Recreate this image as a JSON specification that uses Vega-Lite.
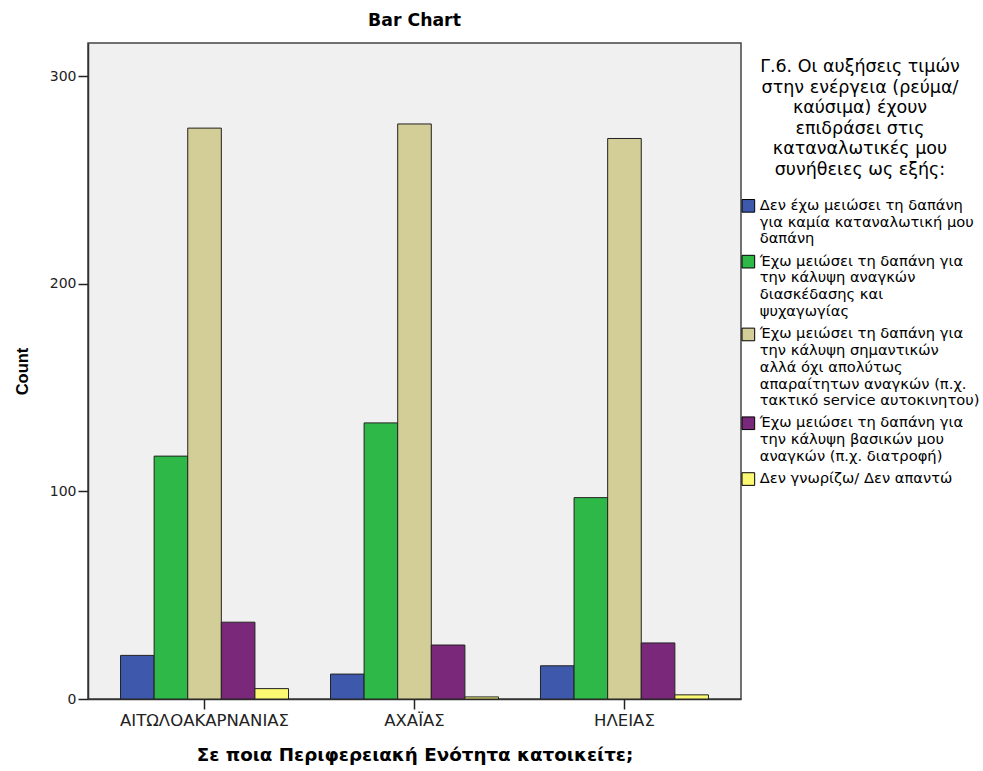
{
  "$schema": "https://vega.github.io/schema/vega-lite/v6.json",
  "width": 653,
  "height": 656,
  "autosize": {"type": "none"},
  "padding": {"left": 88, "top": 43, "right": 242, "bottom": 72},
  "background": "white",
  "title": {"text": "Bar Chart", "font": "DejaVu Sans", "fontSize": 17.3, "fontWeight": "bold", "color": "#000", "anchor": "middle", "offset": 14},
  "config": {
    "view": {"fill": "#F0F0F0", "stroke": "#444", "strokeWidth": 1.5},
    "axis": {
      "labelFont": "DejaVu Sans", "labelColor": "#222",
      "tickColor": "#222", "domainColor": "#333", "domainWidth": 1.5, "tickSize": 10, "tickWidth": 1.5,
      "titleFont": "DejaVu Sans", "titleFontWeight": "bold", "titleColor": "#000",
      "grid": false
    }
  },
  "data": {"values": [
    {"region": "ΑΙΤΩΛΟΑΚΑΡΝΑΝΙΑΣ", "response": "Δεν έχω μειώσει τη δαπάνη\nγια καμία καταναλωτική μου\nδαπάνη", "count": 21},
    {"region": "ΑΙΤΩΛΟΑΚΑΡΝΑΝΙΑΣ", "response": "Έχω μειώσει τη δαπάνη για\nτην κάλυψη αναγκών\nδιασκέδασης και\nψυχαγωγίας", "count": 117},
    {"region": "ΑΙΤΩΛΟΑΚΑΡΝΑΝΙΑΣ", "response": "Έχω μειώσει τη δαπάνη για\nτην κάλυψη σημαντικών\nαλλά όχι απολύτως\nαπαραίτητων αναγκών (π.χ.\nτακτικό service αυτοκινητου)", "count": 275},
    {"region": "ΑΙΤΩΛΟΑΚΑΡΝΑΝΙΑΣ", "response": "Έχω μειώσει τη δαπάνη για\nτην κάλυψη βασικών μου\nαναγκών (π.χ. διατροφή)", "count": 37},
    {"region": "ΑΙΤΩΛΟΑΚΑΡΝΑΝΙΑΣ", "response": "Δεν γνωρίζω/ Δεν απαντώ", "count": 5},
    {"region": "ΑΧΑΪΑΣ", "response": "Δεν έχω μειώσει τη δαπάνη\nγια καμία καταναλωτική μου\nδαπάνη", "count": 12},
    {"region": "ΑΧΑΪΑΣ", "response": "Έχω μειώσει τη δαπάνη για\nτην κάλυψη αναγκών\nδιασκέδασης και\nψυχαγωγίας", "count": 133},
    {"region": "ΑΧΑΪΑΣ", "response": "Έχω μειώσει τη δαπάνη για\nτην κάλυψη σημαντικών\nαλλά όχι απολύτως\nαπαραίτητων αναγκών (π.χ.\nτακτικό service αυτοκινητου)", "count": 277},
    {"region": "ΑΧΑΪΑΣ", "response": "Έχω μειώσει τη δαπάνη για\nτην κάλυψη βασικών μου\nαναγκών (π.χ. διατροφή)", "count": 26},
    {"region": "ΑΧΑΪΑΣ", "response": "Δεν γνωρίζω/ Δεν απαντώ", "count": 1},
    {"region": "ΗΛΕΙΑΣ", "response": "Δεν έχω μειώσει τη δαπάνη\nγια καμία καταναλωτική μου\nδαπάνη", "count": 16},
    {"region": "ΗΛΕΙΑΣ", "response": "Έχω μειώσει τη δαπάνη για\nτην κάλυψη αναγκών\nδιασκέδασης και\nψυχαγωγίας", "count": 97},
    {"region": "ΗΛΕΙΑΣ", "response": "Έχω μειώσει τη δαπάνη για\nτην κάλυψη σημαντικών\nαλλά όχι απολύτως\nαπαραίτητων αναγκών (π.χ.\nτακτικό service αυτοκινητου)", "count": 270},
    {"region": "ΗΛΕΙΑΣ", "response": "Έχω μειώσει τη δαπάνη για\nτην κάλυψη βασικών μου\nαναγκών (π.χ. διατροφή)", "count": 27},
    {"region": "ΗΛΕΙΑΣ", "response": "Δεν γνωρίζω/ Δεν απαντώ", "count": 2}
  ]},
  "mark": {"type": "bar", "stroke": "#222", "strokeWidth": 1},
  "encoding": {
    "x": {
      "field": "region", "type": "nominal",
      "sort": ["ΑΙΤΩΛΟΑΚΑΡΝΑΝΙΑΣ", "ΑΧΑΪΑΣ", "ΗΛΕΙΑΣ"],
      "scale": {"paddingInner": 0.2, "paddingOuter": 0.155},
      "axis": {"title": "Σε ποια Περιφερειακή Ενότητα κατοικείτε;", "labelAngle": 0, "labelFontSize": 16.5, "labelPadding": 3, "titleFontSize": 18.3, "titlePadding": 18}
    },
    "xOffset": {
      "field": "response", "type": "nominal",
      "sort": [
        "Δεν έχω μειώσει τη δαπάνη\nγια καμία καταναλωτική μου\nδαπάνη",
        "Έχω μειώσει τη δαπάνη για\nτην κάλυψη αναγκών\nδιασκέδασης και\nψυχαγωγίας",
        "Έχω μειώσει τη δαπάνη για\nτην κάλυψη σημαντικών\nαλλά όχι απολύτως\nαπαραίτητων αναγκών (π.χ.\nτακτικό service αυτοκινητου)",
        "Έχω μειώσει τη δαπάνη για\nτην κάλυψη βασικών μου\nαναγκών (π.χ. διατροφή)",
        "Δεν γνωρίζω/ Δεν απαντώ"
      ],
      "scale": {"paddingInner": 0, "paddingOuter": 0}
    },
    "y": {
      "field": "count", "type": "quantitative",
      "scale": {"domain": [0, 316], "nice": false},
      "axis": {"values": [0, 100, 200, 300], "title": "Count", "labelFontSize": 14, "labelPadding": 2, "titleFont": "Liberation Sans", "titleFontSize": 16.5, "titlePadding": 19}
    },
    "fill": {
      "field": "response", "type": "nominal",
      "scale": {
        "domain": [
          "Δεν έχω μειώσει τη δαπάνη\nγια καμία καταναλωτική μου\nδαπάνη",
          "Έχω μειώσει τη δαπάνη για\nτην κάλυψη αναγκών\nδιασκέδασης και\nψυχαγωγίας",
          "Έχω μειώσει τη δαπάνη για\nτην κάλυψη σημαντικών\nαλλά όχι απολύτως\nαπαραίτητων αναγκών (π.χ.\nτακτικό service αυτοκινητου)",
          "Έχω μειώσει τη δαπάνη για\nτην κάλυψη βασικών μου\nαναγκών (π.χ. διατροφή)",
          "Δεν γνωρίζω/ Δεν απαντώ"
        ],
        "range": ["#3E58AC", "#2EB848", "#D3CE97", "#7A287A", "#FBF873"]
      },
      "legend": {
        "orient": "none",
        "legendX": 653,
        "legendY": 15,
        "title": ["Γ.6. Οι αυξήσεις τιμών", "στην ενέργεια (ρεύμα/", "καύσιμα) έχουν", "επιδράσει στις", "καταναλωτικές μου", "συνήθειες ως εξής:"],
        "titleFont": "DejaVu Sans", "titleFontSize": 17.5, "titleFontWeight": "normal", "titleColor": "#000",
        "titleAlign": "center", "titleAnchor": "middle", "titleLineHeight": 20.6, "titlePadding": 20, "titleLimit": 400,
        "labelFont": "DejaVu Sans", "labelFontSize": 14.7, "labelColor": "#000", "labelLimit": 400, "labelOffset": 4,
        "labelLineHeight": 17.2,
        "labelExpr": "split(datum.label, '\\n')",
        "symbolType": "square", "symbolSize": 160, "symbolStrokeColor": "#000", "symbolStrokeWidth": 1,
        "rowPadding": 6.8
      }
    }
  }
}
